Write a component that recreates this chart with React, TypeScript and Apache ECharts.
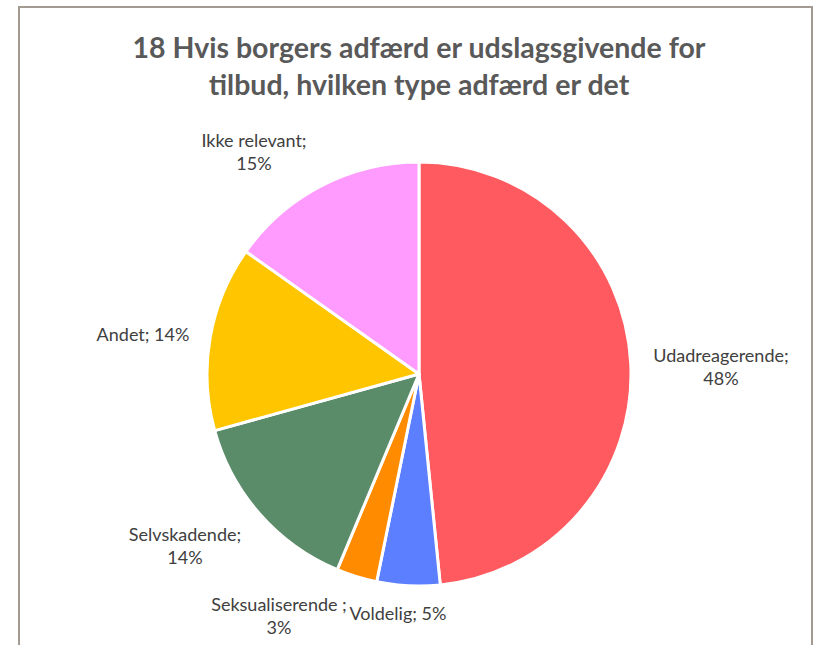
import React, { useEffect, useRef } from "react";
import * as echarts from "echarts";

const TITLE = "18 Hvis borgers adfærd er udslagsgivende for\ntilbud, hvilken type adfærd er det";
const categories = ["Udadreagerende", "Voldelig", "Seksualiserende ", "Selvskadende", "Andet", "Ikke relevant"];
const values = [48.4, 4.8, 3.1, 14.4, 14.1, 15.2];
const colors = ["#FF5A5F", "#5B7FFF", "#FF8C00", "#5A8C69", "#FFC600", "#FF9BFF"];
// label centre positions (px) in the chart
const labelPos: [number, number][] = [
  [721, 366],
  [398, 613],
  [279, 615],
  [185, 545],
  [143, 334],
  [254, 151],
];

export default function App() {
  const ref = useRef<HTMLDivElement>(null);
  useEffect(() => {
    if (!ref.current) return;
    const chart = echarts.init(ref.current, null, { renderer: "svg" });
    const font = "Lato, 'Open Sans', sans-serif";
    chart.setOption({
      animation: false,
      backgroundColor: "#ffffff",
      title: {
        text: TITLE,
        left: 414,
        textAlign: "center",
        top: 23,
        textStyle: {
          fontFamily: font,
          fontWeight: "bold",
          fontSize: 28.5,
          lineHeight: 37,
          color: "#595959",
        },
      },
      graphic: [
        {
          type: "rect",
          shape: { x: 19, y: 7, width: 793, height: 660 },
          style: { fill: "none", stroke: "#A39A92", lineWidth: 2 },
          silent: true,
          z: -1,
        },
      ],
      series: [
        {
          type: "pie",
          center: [419, 374],
          radius: [0, 212],
          startAngle: 90,
          clockwise: true,
          data: categories.map((c, i) => ({
            name: c,
            value: values[i],
            itemStyle: { color: colors[i] },
          })),
          itemStyle: { borderColor: "#ffffff", borderWidth: 3 },
          label: {
            show: true,
            position: "outside",
            overflow: "none",
            edgeDistance: 0,
            fontFamily: font,
            fontSize: 18,
            lineHeight: 23,
            color: "#404040",
            align: "center",
            formatter: (p: any) => {
              const pct = Math.round(p.value) + "%";
              const n = p.name.trim().length > 8 ? p.name + ";\n" + pct : p.name + "; " + pct;
              return n;
            },
          },
          labelLine: { show: false },
          labelLayout: (p: any) => {
            const pos = labelPos[p.dataIndex];
            return { x: pos[0], y: pos[1], align: "center", verticalAlign: "middle" };
          },
        },
      ],
    });
    return () => chart.dispose();
  }, []);
  return (
    <div
      ref={ref}
      style={{ position: "absolute", left: 0, top: 0, width: 820, height: 645 }}
    />
  );
}
